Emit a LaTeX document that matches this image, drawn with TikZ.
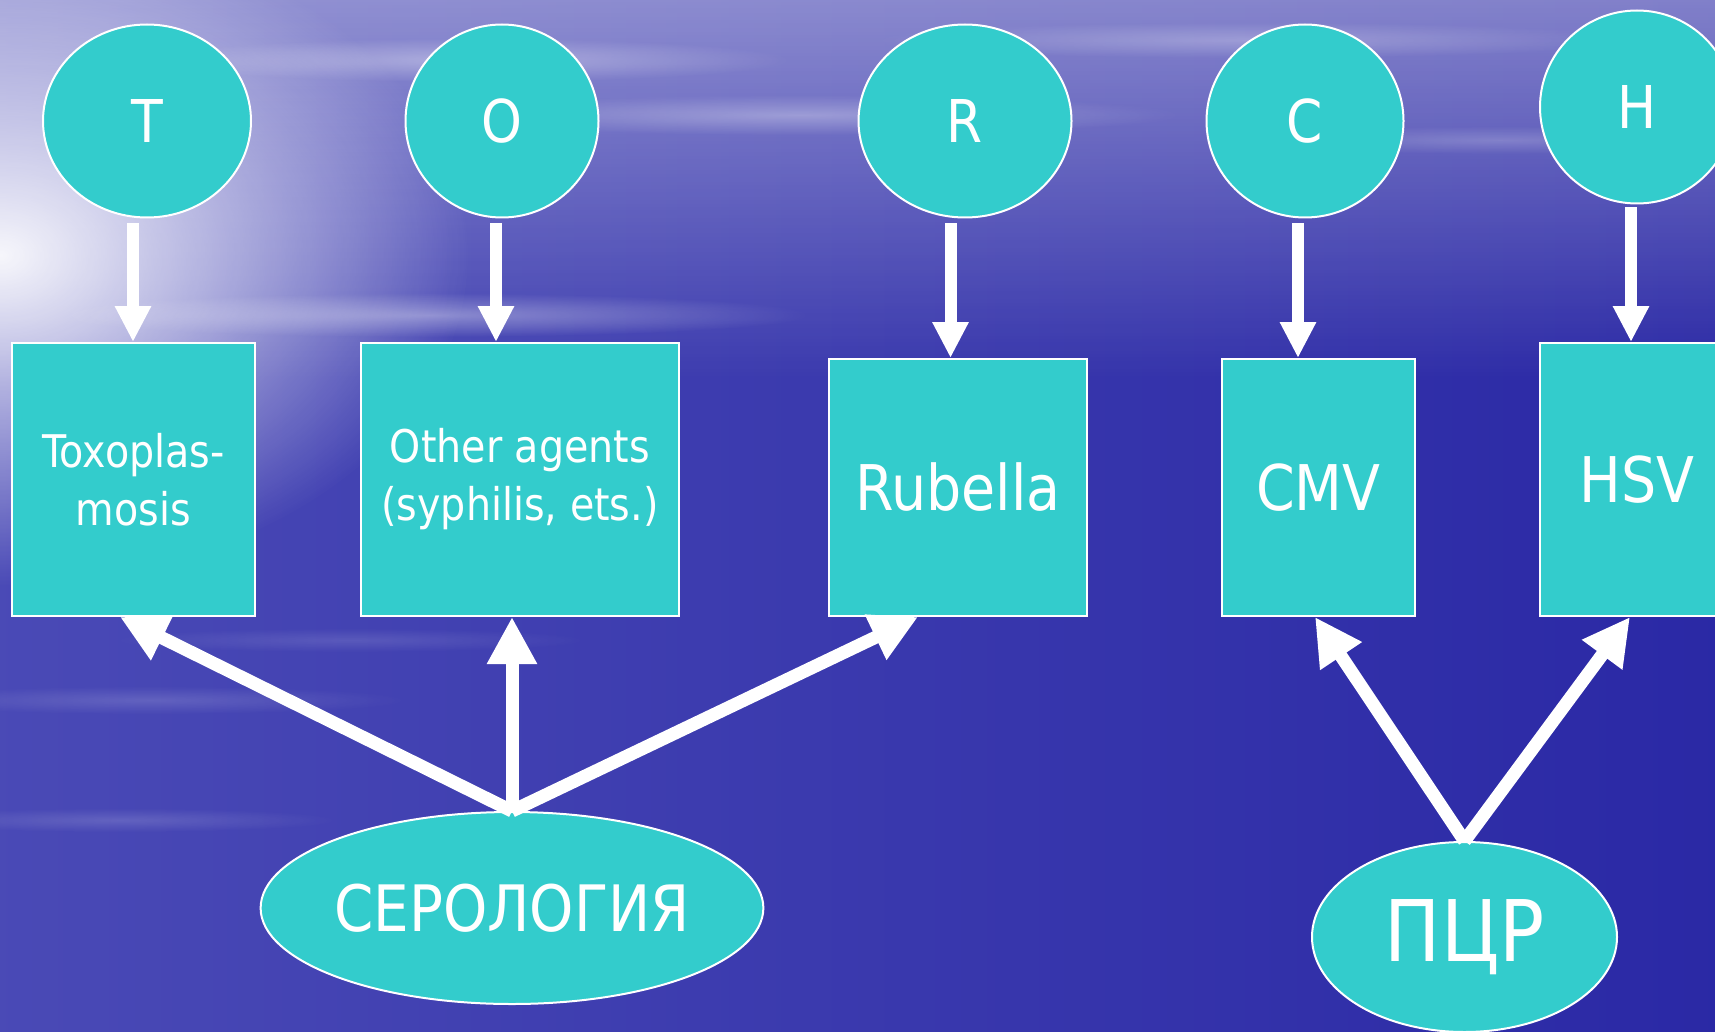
\documentclass[tikz,border=0pt]{standalone}
\usepackage{fontspec}
\setmainfont{DejaVu Sans}[FakeStretch=0.88]
\usetikzlibrary{arrows.meta,shapes.geometric,fadings}
\definecolor{boxfill}{RGB}{51,204,204}
\definecolor{seadeep}{RGB}{42,40,165}
\definecolor{sealight}{RGB}{74,74,182}
\tikzfading[name=glowfade, inner color=transparent!0, outer color=transparent!100]
\tikzfading[name=skyfade, top color=transparent!0, bottom color=transparent!100]
\begin{document}
\begin{tikzpicture}[x=1pt, y=-1pt,
disc/.style={ellipse, draw=white, line width=2pt, fill=boxfill, text=white, inner sep=0pt, minimum height=193pt, font=\fontsize{59}{59}\selectfont},
agent/.style={rectangle, draw=white, line width=2pt, fill=boxfill, text=white, inner sep=0pt, align=center},
small/.style={font=\fontsize{45}{58}\selectfont},
big/.style={font=\fontsize{63}{63}\selectfont},
assay/.style={ellipse, draw=white, line width=2pt, fill=boxfill, text=white, inner sep=0pt},
streak/.style={white, path fading=glowfade, opacity=#1},
downarrow/.style={draw=white, line width=12pt, -{Triangle[width=34pt,length=36pt]}},
uparrow/.style={draw=white, line width=13pt, -{Triangle[width=47pt,length=47pt]}}]
\useasboundingbox (0,0) rectangle (1715,1032);
\clip (0,0) rectangle (1715,1032);
\fill[left color=sealight, right color=seadeep] (-20,-20) rectangle (1735,1052);
\fill[white, path fading=skyfade, opacity=0.45] (-40,-40) rectangle (1755,380);
\fill[streak=0.95] (0,255) ellipse (470 and 330);
\fill[streak=0.35] (470,60) ellipse (320 and 22);
\fill[streak=0.3] (800,115) ellipse (380 and 20);
\fill[streak=0.35] (430,315) ellipse (380 and 22);
\fill[streak=0.25] (1250,40) ellipse (380 and 18);
\fill[streak=0.2] (1500,140) ellipse (260 and 14);
\fill[streak=0.15] (150,700) ellipse (260 and 14);
\fill[streak=0.15] (120,820) ellipse (220 and 12);
\fill[streak=0.12] (350,640) ellipse (240 and 12);

\node[disc, minimum width=208pt] (T) at (147,121) {T};
\node[disc, minimum width=193pt] (O) at (502,121) {O};
\node[disc, minimum width=213pt] (R) at (965,121) {R};
\node[disc, minimum width=197pt] (C) at (1305,121) {C};
\node[disc, minimum width=194pt] (H) at (1637,107) {H};

\node[agent, small, minimum width=243pt, minimum height=273pt] (tox) at (133.5,479.5) {Toxoplas-\\mosis};
\node[agent, small, minimum width=318pt, minimum height=273pt] (oth) at (520,479.5) {Other agents\\(syphilis, ets.)};
\node[agent, big, minimum width=258pt, minimum height=257pt] (rub) at (958,487.5) {Rubella};
\node[agent, big, minimum width=193pt, minimum height=257pt] (cmv) at (1318.5,487.5) {CMV};
\node[agent, big, minimum width=194pt, minimum height=273pt] (hsv) at (1637,479.5) {HSV};

\node[assay, minimum width=486pt, minimum height=192pt, font=\fontsize{64}{64}\selectfont] (srl) at (512,908) {СЕРОЛОГИЯ};
\node[assay, minimum width=305pt, minimum height=190pt, font=\fontsize{85}{85}\selectfont] (pcr) at (1464.5,937) {ПЦР};

\draw[downarrow] ([xshift=-14pt,yshift=-5pt]T.south) -- ([xshift=-14pt]T.south |- tox.north);
\draw[downarrow] ([xshift=-6pt,yshift=-5pt]O.south) -- ([xshift=-6pt]O.south |- oth.north);
\draw[downarrow] ([xshift=-14.5pt,yshift=-5pt]R.south) -- ([xshift=-14.5pt]R.south |- rub.north);
\draw[downarrow] ([xshift=-7pt,yshift=-5pt]C.south) -- ([xshift=-7pt]C.south |- cmv.north);
\draw[downarrow] ([xshift=-6pt,yshift=-3pt]H.south) -- ([xshift=-6pt]H.south |- hsv.north);

\draw[uparrow] (srl.north) -- ([xshift=-13.5pt]tox.south);
\draw[uparrow] (srl.north) -- (srl.north |- oth.south);
\draw[uparrow] (srl.north) -- ([xshift=-40pt]rub.south);
\draw[uparrow] (pcr.north) -- ([xshift=-3.5pt]cmv.south);
\draw[uparrow] (pcr.north) -- ([xshift=-7pt]hsv.south);
\end{tikzpicture}
\end{document}
